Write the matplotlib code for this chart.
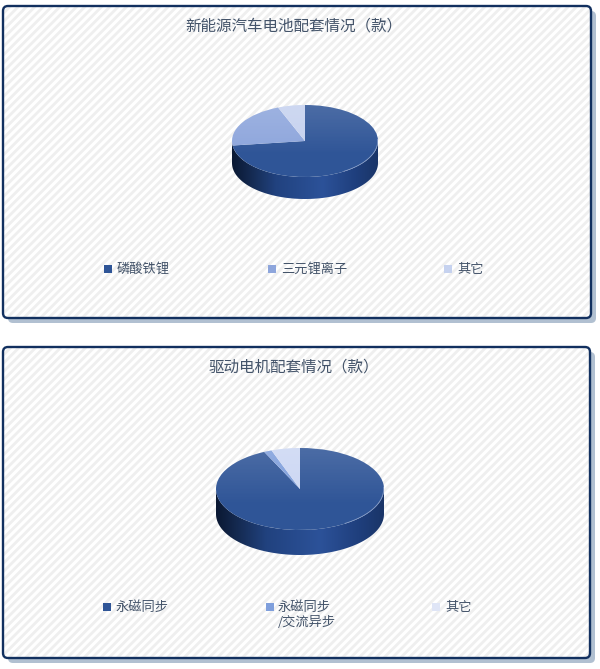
import numpy as np
import matplotlib
matplotlib.use('Agg')
import matplotlib.pyplot as plt
from matplotlib.colors import LinearSegmentedColormap
from matplotlib.patches import FancyBboxPatch, Ellipse, Polygon, Rectangle

plt.rcParams['font.family'] = ['Noto Sans CJK SC', 'DejaVu Sans']
plt.rcParams['hatch.linewidth'] = 2.0

# data
battery_title = '新能源汽车电池配套情况（款）'
battery_labels = ['磷酸铁锂', '三元锂离子', '其它']
battery_values = [73, 21, 6]
motor_title = '驱动电机配套情况（款）'
motor_labels = ['永磁同步', '永磁同步\n/交流异步', '其它']
motor_values = [93, 1.5, 5.5]

W, H = 600, 669
fig = plt.figure(figsize=(W / 100, H / 100), dpi=100)
bg = fig.add_axes([0, 0, 1, 1])
bg.set_xlim(0, W)
bg.set_ylim(H, 0)
bg.axis('off')

wall_cmap = LinearSegmentedColormap.from_list('wall', [
    (0, '#0a1832'), (0.12, '#14294f'), (0.3, '#21427f'), (0.62, '#2c5299'),
    (0.85, '#1f3f7d'), (1, '#1a3568')])
sheen = np.zeros((100, 2, 4))
sheen[:, :, :3] = 1
sheen[:, :, 3] = np.clip(np.linspace(0.14, -0.06, 100), 0, 1)[:, None]


def panel(x0, y0, x1, y1):
    box = dict(boxstyle='round,pad=0,rounding_size=5')
    bg.add_patch(FancyBboxPatch((x0 + 5, y0 + 5), x1 - x0, y1 - y0, fc='#b1c0d1', ec='none', zorder=1, **box))
    # the hatch takes the edge colour, the real border goes on top
    bg.add_patch(FancyBboxPatch((x0, y0), x1 - x0, y1 - y0, fc='white', ec='#efefef', lw=0, hatch='////', zorder=2, **box))
    bg.add_patch(FancyBboxPatch((x0, y0), x1 - x0, y1 - y0, fc='none', ec='#12305f', lw=1.7, zorder=3, **box))


def pie3d(values, colors, cx, cy, rx, ry, depth):
    # side wall
    t = np.linspace(0, np.pi, 120)
    xs = cx + rx * np.cos(t)
    ys = cy + ry * np.sin(t)
    pts = np.r_[np.c_[xs, ys + depth], np.c_[xs[::-1], ys[::-1]]]
    im = bg.imshow(np.linspace(0, 1, 256)[None, :], cmap=wall_cmap, aspect='auto',
                   extent=(cx - rx, cx + rx, cy + ry + depth, cy), zorder=4)
    im.set_clip_path(Polygon(pts, transform=bg.transData))
    bg.set_xlim(0, W)
    bg.set_ylim(H, 0)

    # top face
    ax = fig.add_axes([(cx - rx) / W, 1 - (cy + ry) / H, 2 * rx / W, 2 * ry / H])
    ax.pie(values, colors=colors, startangle=90, counterclock=False, radius=1)
    ax.set_aspect('auto')
    ax.patch.set_alpha(0)
    top = ax.imshow(sheen, extent=(-1, 1, -1, 1), aspect='auto', zorder=5)
    top.set_clip_path(Ellipse((0, 0), 2, 2, transform=ax.transData))
    ax.set_xlim(-1, 1)
    ax.set_ylim(-1, 1)
    # light rim on the lower right
    a = np.linspace(-1.0, 0.05, 60)
    ax.plot(0.995 * np.cos(a), 0.995 * np.sin(a), color='#8ea3cb', lw=0.5, zorder=6, clip_on=False)


def legend(labels, colors, marks, texts, y):
    for lab, c, m, tx in zip(labels, colors, marks, texts):
        bg.add_patch(Rectangle((m, y - 4), 8, 8, fc=c, ec='none', zorder=5))
        bg.text(tx, y - 6, lab, fontsize=9.5, color='#44546a', ha='left', va='top',
                linespacing=1.2, zorder=5)


panel(3, 6, 591, 318)
panel(3, 347, 590, 658)

bg.text(294, 26, battery_title, fontsize=11.2, color='#44546a', ha='center', va='center', zorder=5)
bg.text(294, 367, motor_title, fontsize=11.2, color='#44546a', ha='center', va='center', zorder=5)

pie3d(battery_values, ['#2f5597', '#8ea6dc', '#c6d2ef'], 305, 141, 73, 36, 22)
pie3d(motor_values, ['#2f5597', '#7f9fdc', '#ccd7f3'], 300, 489, 84, 41, 25)

legend(battery_labels, ['#2f5597', '#8ea6dc', '#c6d2ef'], [104, 268, 444], [117, 281, 457], 269)
legend(motor_labels, ['#2f5597', '#7f9fdc', '#dfe5f6'], [103, 266, 432], [116, 278, 445], 607)

fig.savefig('out.png', dpi=100)
